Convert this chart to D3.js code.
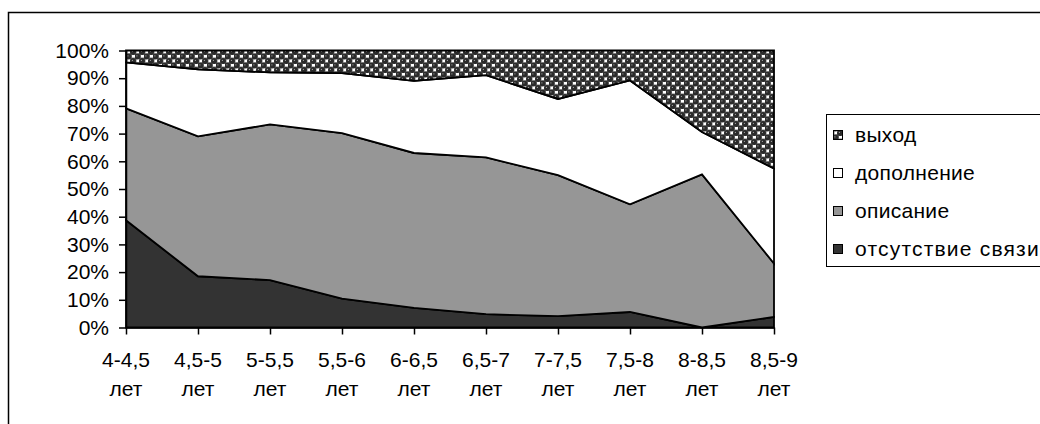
<!DOCTYPE html>
<html>
<head>
<meta charset="utf-8">
<script src="https://cdn.jsdelivr.net/npm/d3@7/dist/d3.min.js"></script>
<style>
  html, body { margin: 0; padding: 0; background: #fff; }
  svg { display: block; }
  text { font-family: "Liberation Sans", Arial, sans-serif; fill: #000; }
</style>
</head>
<body>
<svg id="chart" width="1040" height="424"></svg>
<script>
// Age groups (two-line tick labels: range + unit)
const categories = ["4-4,5", "4,5-5", "5-5,5", "5,5-6", "6-6,5", "6,5-7", "7-7,5", "7,5-8", "8-8,5", "8,5-9"];
const ageUnit = "лет";

// Share of each answer type per age group, %
const noConnection = [38.7, 18.5, 17.1, 10.4, 7.1, 4.8, 4.1, 5.6, 0.0, 3.8];
const description  = [40.4, 50.5, 56.2, 59.8, 55.9, 56.6, 50.9, 38.9, 55.3, 19.3];
const addition     = [16.6, 24.2, 18.8, 21.6, 26.0, 29.7, 27.5, 44.7, 15.3, 34.3];
const exitAnswer   = [4.3, 6.8, 7.9, 8.2, 11.0, 8.9, 17.5, 10.8, 29.4, 42.6];

const seriesKeys  = ["отсутствие связи", "описание", "дополнение", "выход"];
const yTickValues = [0, 10, 20, 30, 40, 50, 60, 70, 80, 90, 100];

const rows = categories.map((c, i) => ({
  cat: c,
  "отсутствие связи": noConnection[i],
  "описание": description[i],
  "дополнение": addition[i],
  "выход": exitAnswer[i]
}));

const FONT = "21px";
const svg = d3.select("#chart");

// Dotted "sphere" fill for the top band
const defs = svg.append("defs");
const P = 9;
const pat = defs.append("pattern")
  .attr("id", "spheres").attr("patternUnits", "userSpaceOnUse")
  .attr("width", P).attr("height", P);
pat.append("rect").attr("width", P).attr("height", P).attr("fill", "#7a7a7a");
pat.append("rect").attr("x", 6).attr("y", 0.5).attr("width", 3).attr("height", 3).attr("fill", "#fff");
pat.append("rect").attr("x", 1.5).attr("y", 5).attr("width", 3).attr("height", 3).attr("fill", "#fff");
[[2.5, 2.5], [7, 7], [-2, 7], [7, -2], [11.5, 7], [7, 11.5]].forEach(([cx, cy]) => {
  pat.append("circle").attr("cx", cx).attr("cy", cy).attr("r", 3).attr("fill", "#2b2b2b");
});
[[1.4, 1.4], [5.9, 5.9]].forEach(([cx, cy]) => {
  pat.append("rect").attr("x", cx).attr("y", cy).attr("width", 1).attr("height", 1).attr("fill", "#b5b5b5");
});

const fills = {
  "отсутствие связи": "#333333",
  "описание": "#969696",
  "дополнение": "#ffffff",
  "выход": "url(#spheres)"
};

// Outer frame
svg.append("rect")
  .attr("x", 8.5).attr("y", 12.5).attr("width", 1100).attr("height", 500)
  .attr("fill", "none").attr("stroke", "#000").attr("stroke-width", 1.5);

const x = d3.scalePoint().domain(categories).range([126, 774]);
const y = d3.scaleLinear().domain([0, 100]).range([327.5, 50.5]);

const stack = d3.stack().keys(seriesKeys);
const layers = stack(rows);

const area = d3.area()
  .x(d => x(d.data.cat))
  .y0(d => y(d[0]))
  .y1(d => y(d[1]));

svg.append("g").selectAll("path")
  .data(layers)
  .join("path")
  .attr("d", area)
  .attr("fill", d => fills[d.key])
  .attr("stroke", "#000")
  .attr("stroke-width", 1.8)
  .attr("stroke-linejoin", "miter");

// Y axis
const yAxis = svg.append("g")
  .attr("transform", "translate(126,0)")
  .call(d3.axisLeft(y).tickValues(yTickValues).tickFormat(d => d + "%")
    .tickSize(7).tickSizeOuter(0).tickPadding(10));
yAxis.attr("font-family", null).attr("font-size", null);
yAxis.selectAll("text").style("font-size", FONT);
yAxis.selectAll("line, path").attr("stroke", "#000").attr("stroke-width", 1.5);

// X axis
const xAxis = svg.append("g")
  .attr("transform", "translate(0,327.5)")
  .call(d3.axisBottom(x).tickSize(7).tickSizeOuter(0).tickFormat(""));
xAxis.attr("font-family", null).attr("font-size", null);
xAxis.selectAll("line, path").attr("stroke", "#000").attr("stroke-width", 1.5);

const xLabels = svg.append("g").selectAll("text")
  .data(categories)
  .join("text")
  .attr("text-anchor", "middle")
  .style("font-size", FONT);
xLabels.append("tspan").attr("x", d => x(d)).attr("y", 367).text(d => d);
xLabels.append("tspan").attr("x", d => x(d)).attr("y", 396).text(ageUnit);

// Legend
const legend = svg.append("g");
legend.append("rect")
  .attr("x", 826.5).attr("y", 114.5).attr("width", 300).attr("height", 152)
  .attr("fill", "#fff").attr("stroke", "#000").attr("stroke-width", 1);

const legendOrder = seriesKeys.slice().reverse();
const item = legend.selectAll("g.item")
  .data(legendOrder)
  .join("g")
  .attr("class", "item")
  .attr("transform", (d, i) => `translate(833,${135 + i * 38})`);
item.append("rect")
  .attr("x", 0.5).attr("y", -4.5).attr("width", 9).attr("height", 9)
  .attr("fill", d => fills[d]).attr("stroke", "#000").attr("stroke-width", 1);
item.append("text")
  .attr("x", 22).attr("y", 0).attr("dy", "0.35em")
  .style("font-size", FONT)
  .style("letter-spacing", d => d === "отсутствие связи" ? "1.2px" : "0.3px")
  .text(d => d);
</script>
</body>
</html>
